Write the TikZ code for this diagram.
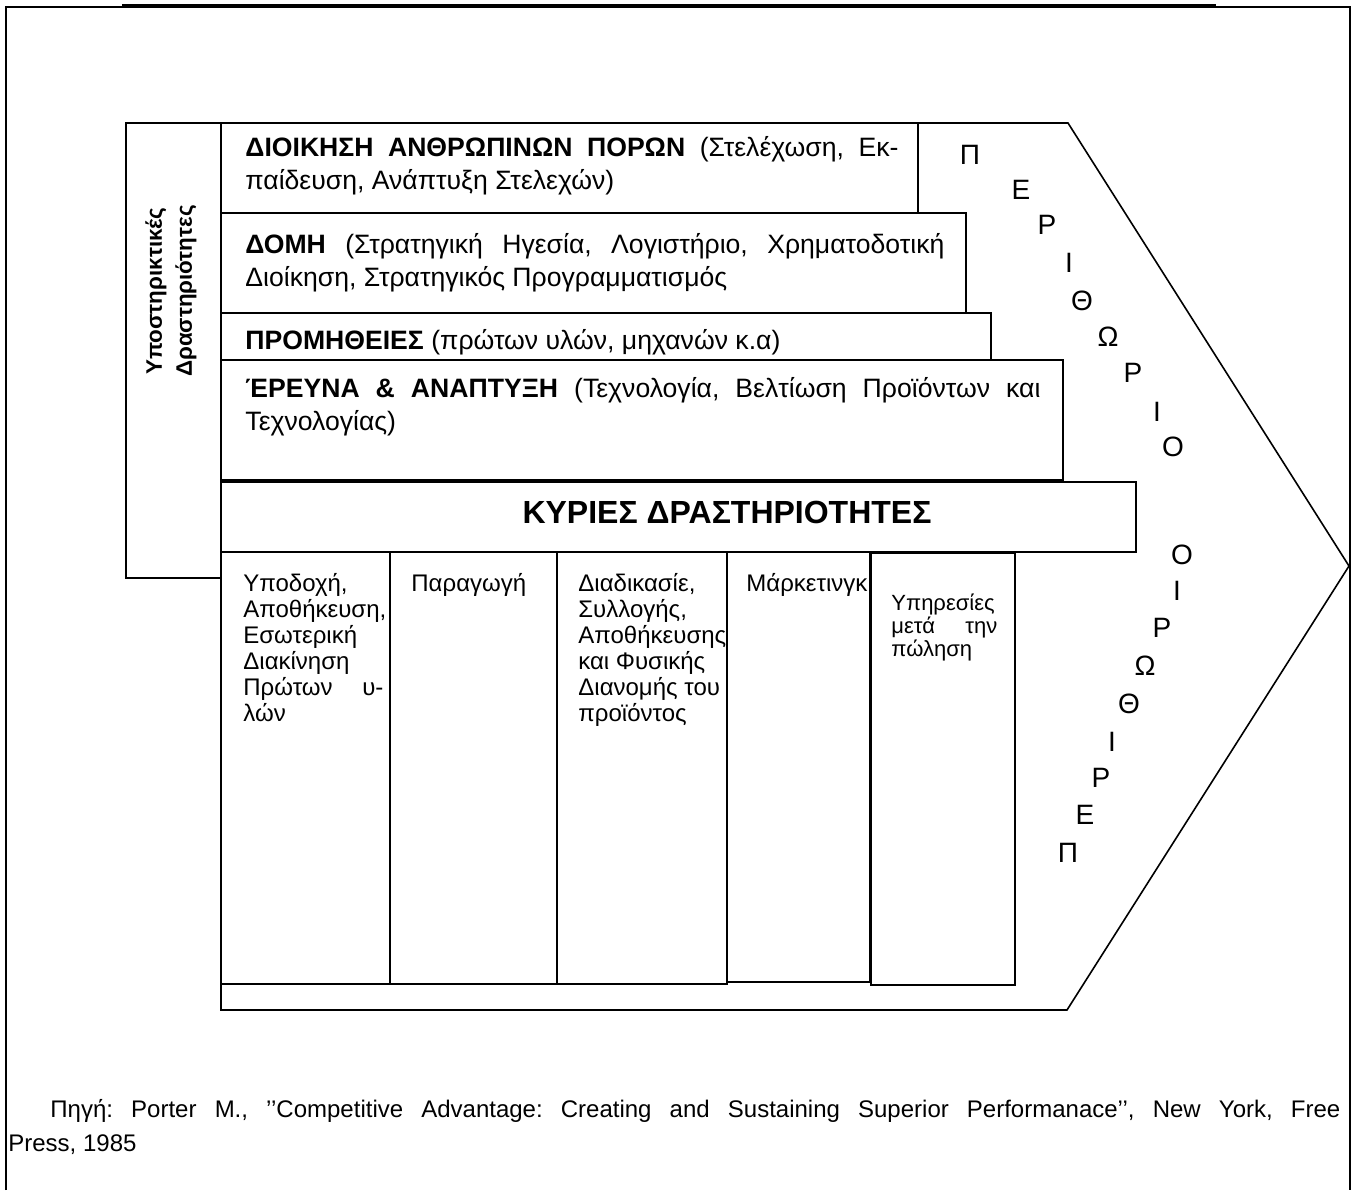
\documentclass[tikz,border=0pt]{standalone}
\usepackage{fontspec}
\setmainfont{Liberation Sans}
\frenchspacing
% top-aligned stack of lines whose baseline is the first line's baseline
\newcommand{\linestack}[1]{\begin{tabular}[t]{@{}l@{}}#1\end{tabular}}
\begin{document}
\begin{tikzpicture}[x=0.5pt,y=-0.5pt,
  box/.style={draw, line width=1pt},
  body/.style={anchor=base west, inner sep=0pt, font=\fontsize{13.3}{16.5}\selectfont},
  cell/.style={anchor=base west, inner sep=0pt, font=\fontsize{12}{13}\selectfont},
  small/.style={anchor=base west, inner sep=0pt, font=\fontsize{11}{11}\selectfont},
  source/.style={anchor=base west, inner sep=0pt, font=\fontsize{12}{14}\selectfont},
  letter/.style={inner sep=0pt, font=\fontsize{14}{16}\selectfont},
]
\useasboundingbox (0,0) rectangle (1356,1190);

% page frame
\draw[line width=1pt] (6,1190) -- (6,7) -- (1350,7) -- (1350,1190);
\draw[line width=1.6pt] (122,6) -- (1216,6);

% outer arrow (margin)
\draw[line width=0.8pt] (221,123) -- (1068,123) -- (1349,566) -- (1067,1010) -- (221,1010) -- cycle;

% support activities side label
\draw[box] (126,123) rectangle (221,578);
\node[rotate=90, align=center, inner sep=0pt, font=\bfseries\fontsize{11.2}{15}\selectfont] (sup) at (171,291) {Υποστηρικτικές\\Δραστηριότητες};

% support activity rows
\draw[box] (221,123) rectangle (918,213);
\draw[box] (221,213) rectangle (966,313);
\draw[box] (221,313) rectangle (991,360);
\draw[box] (221,360) rectangle (1063,480);
\draw[box] (221,482) rectangle (1136,552);

\node[body] (hr1) at (245,156) {\makebox[326.5pt][s]{\textbf{ΔΙΟΙΚΗΣΗ ΑΝΘΡΩΠΙΝΩΝ ΠΟΡΩΝ} (Στελέχωση, Εκ-}};
\node[body] (hr2) at (245,189) {παίδευση, Ανάπτυξη Στελεχών)};
\node[body] (st1) at (245,253) {\makebox[349.5pt][s]{\textbf{ΔΟΜΗ} (Στρατηγική Ηγεσία, Λογιστήριο, Χρηματοδοτική}};
\node[body] (st2) at (245,286) {Διοίκηση, Στρατηγικός Προγραμματισμός};
\node[body] (pr) at (245,349) {\textbf{ΠΡΟΜΗΘΕΙΕΣ} (πρώτων υλών, μηχανών κ.α)};
\node[body] (rd1) at (245,397) {\makebox[397.5pt][s]{\textbf{ΈΡΕΥΝΑ \& ΑΝΑΠΤΥΞΗ} (Τεχνολογία, Βελτίωση Προϊόντων και}};
\node[body] (rd2) at (245,430) {Τεχνολογίας)};

\node[inner sep=0pt, font=\bfseries\fontsize{16}{18}\selectfont] (prim) at (727,512) {ΚΥΡΙΕΣ ΔΡΑΣΤΗΡΙΟΤΗΤΕΣ};

% primary activity columns
\draw[box] (221,552) rectangle (390,984);
\draw[box] (390,552) rectangle (557,984);
\draw[box] (557,552) rectangle (727,984);
\draw[box] (727,552) rectangle (870,982);
\draw[line width=1.2pt] (871,553) rectangle (1015,985);

\node[cell] (c1) at (243,591) {\linestack{Υποδοχή,\\Αποθήκευση,\\Εσωτερική\\Διακίνηση\\\makebox[70pt][s]{Πρώτων υ-}\\λών}};
\node[cell] (c2) at (411,591) {Παραγωγή};
\node[cell] (c3) at (578,591) {\linestack{Διαδικασίε,\\Συλλογής,\\Αποθήκευσης\\και Φυσικής\\Διανομής του\\προϊόντος}};
\node[cell] (c4) at (746,591) {Μάρκετινγκ};
\node[small] (c5) at (891,610) {\linestack{Υπηρεσίες\\\makebox[53pt][s]{μετά την}\\πώληση}};

% margin lettering, upper half
\node[letter] (a1) at (970,155) {Π};
\node[letter] (a2) at (1021,190) {Ε};
\node[letter] (a3) at (1047,225) {Ρ};
\node[letter] (a4) at (1069,263) {Ι};
\node[letter] (a5) at (1082,301) {Θ};
\node[letter] (a6) at (1108,337) {Ω};
\node[letter] (a7) at (1133,373) {Ρ};
\node[letter] (a8) at (1157,412) {Ι};
\node[letter] (a9) at (1173,447) {Ο};

% margin lettering, lower half
\node[letter] (b1) at (1182,555) {Ο};
\node[letter] (b2) at (1177,591) {Ι};
\node[letter] (b3) at (1162,628) {Ρ};
\node[letter] (b4) at (1145,666) {Ω};
\node[letter] (b5) at (1129,704) {Θ};
\node[letter] (b6) at (1112,742) {Ι};
\node[letter] (b7) at (1101,778) {Ρ};
\node[letter] (b8) at (1085,815) {Ε};
\node[letter] (b9) at (1068,853) {Π};

% source line
\node[source] (src1) at (50,1117) {\makebox[645pt][s]{Πηγή: Porter M., {'}{'}Competitive Advantage: Creating and Sustaining Superior Performanace{'}{'}, New York, Free}};
\node[source] (src2) at (8,1151) {Press, 1985};
\end{tikzpicture}
\end{document}
